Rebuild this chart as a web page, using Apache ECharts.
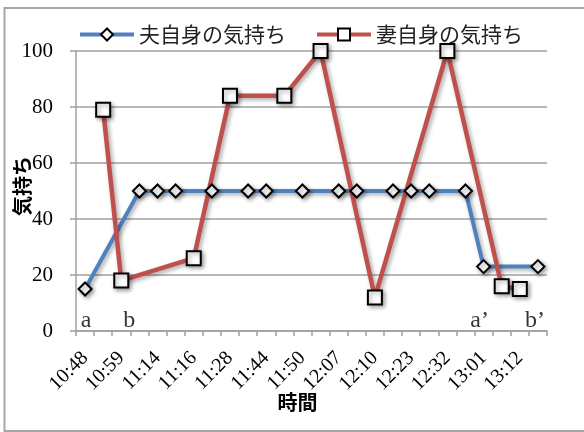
<!DOCTYPE html>
<html>
<head>
<meta charset="utf-8">
<script src="https://cdn.jsdelivr.net/npm/echarts@6/dist/echarts.min.js"></script>
<style>html,body{margin:0;padding:0;background:#fff}#c{width:584px;height:432px}</style>
</head>
<body>
<div id="c"></div>
<script>
// Categories (every other one is labelled in the reference)
const categories = ['10:48','','10:59','','11:14','','11:16','','11:28','','11:44','','11:50','',
                    '12:07','','12:10','','12:23','','12:32','','13:01','','13:12',''];
const husbandName = '夫自身の気持ち';
const wifeName = '妻自身の気持ち';
const husband = [15,null,null,50,50,50,null,50,null,50,50,null,50,null,50,50,null,50,50,50,null,50,23,null,null,23];
const wife    = [null,79,18,null,null,null,26,null,84,null,null,84,null,100,null,null,12,null,null,null,100,null,null,16,15,null];
const yTicks = [0,20,40,60,80,100];
const annotIdx = [0,2,22,25];
const annotText = ['a','b','a’','b’'];

const annotOffsets = [[1,-10],[8,-10],[-4,-10],[-3,-10]];
const chart = echarts.init(document.getElementById('c'), null, {renderer:'canvas'});
const serif = 'Liberation Serif';
const cjk = 'Noto Sans CJK JP';
const shadow = {shadowColor:'rgba(0,0,0,0.35)', shadowBlur:4, shadowOffsetX:2, shadowOffsetY:2};
chart.setOption({
  animation:false,
  backgroundColor:'#fff',
  graphic:[{type:'rect', shape:{x:4.5,y:8,width:600,height:423}, style:{fill:'none',stroke:'#a6a6a6',lineWidth:2}, silent:true}],
  legend:{
    data:[husbandName, wifeName],
    left:78, top:24, padding:0, itemWidth:54, itemHeight:15, itemGap:29,
    lineStyle:{width:4},
    itemStyle:{borderWidth:2, borderColor:'#000', color:'#fff'},
    textStyle:{fontFamily:cjk, fontSize:21, color:'#222'}
  },
  grid:{left:76, right:37, top:51, bottom:101, containLabel:false, outerBoundsMode:'none'},
  xAxis:{
    type:'category', data:categories, boundaryGap:true,
    name:'時間', nameLocation:'middle', nameGap:61, nameMoveOverlap:false,
    nameTextStyle:{fontFamily:cjk, fontWeight:'bold', fontSize:20, color:'#000', padding:[0,28,0,0]},
    axisLine:{lineStyle:{color:'#a0a0a0', width:1.5}},
    axisTick:{show:true, interval:0, length:5, lineStyle:{color:'#a0a0a0', width:1.5}},
    axisLabel:{interval:1, rotate:45, margin:24, fontFamily:serif, fontSize:20, color:'#000'},
    splitLine:{show:false}
  },
  yAxis:{
    type:'value', min:yTicks[0], max:yTicks[yTicks.length-1], interval:20,
    name:'気持ち', nameLocation:'middle', nameRotate:90, nameGap:44, nameMoveOverlap:false,
    nameTextStyle:{fontFamily:cjk, fontWeight:'bold', fontSize:20, color:'#000', padding:[0,0,0,10]},
    axisLine:{show:true, lineStyle:{color:'#a0a0a0', width:1.5}},
    axisTick:{show:true, length:6, lineStyle:{color:'#a0a0a0', width:1.5}},
    axisLabel:{margin:23, fontFamily:serif, fontSize:21, color:'#000'},
    splitLine:{lineStyle:{color:'#a0a0a0', width:1.5}}
  },
  series:[
    {
      name:husbandName, type:'line', data:husband, connectNulls:true,
      symbol:'diamond', symbolSize:13, showAllSymbol:true,
      lineStyle:Object.assign({color:'#4F81BD', width:4}, shadow),
      itemStyle:Object.assign({color:'#fff', borderColor:'#000', borderWidth:2}, shadow),
      color:'#4F81BD'
    },
    {
      name:wifeName, type:'line', data:wife, connectNulls:true,
      symbol:'rect', symbolSize:14, showAllSymbol:true,
      lineStyle:Object.assign({color:'#C0504D', width:4.5}, shadow),
      itemStyle:Object.assign({color:'#fff', borderColor:'#000', borderWidth:2}, shadow),
      color:'#C0504D'
    },
    {
      name:'annot', type:'scatter', symbolSize:0, silent:true,
      data: annotIdx.map((ix,i)=>({value:[ix,0], name:annotText[i],
        label:{offset:annotOffsets[i]}})),
      label:{show:true, position:'inside', formatter:p=>p.name,
        fontFamily:serif, fontSize:24, color:'#000'}
    }
  ]
});
</script>
</body>
</html>
